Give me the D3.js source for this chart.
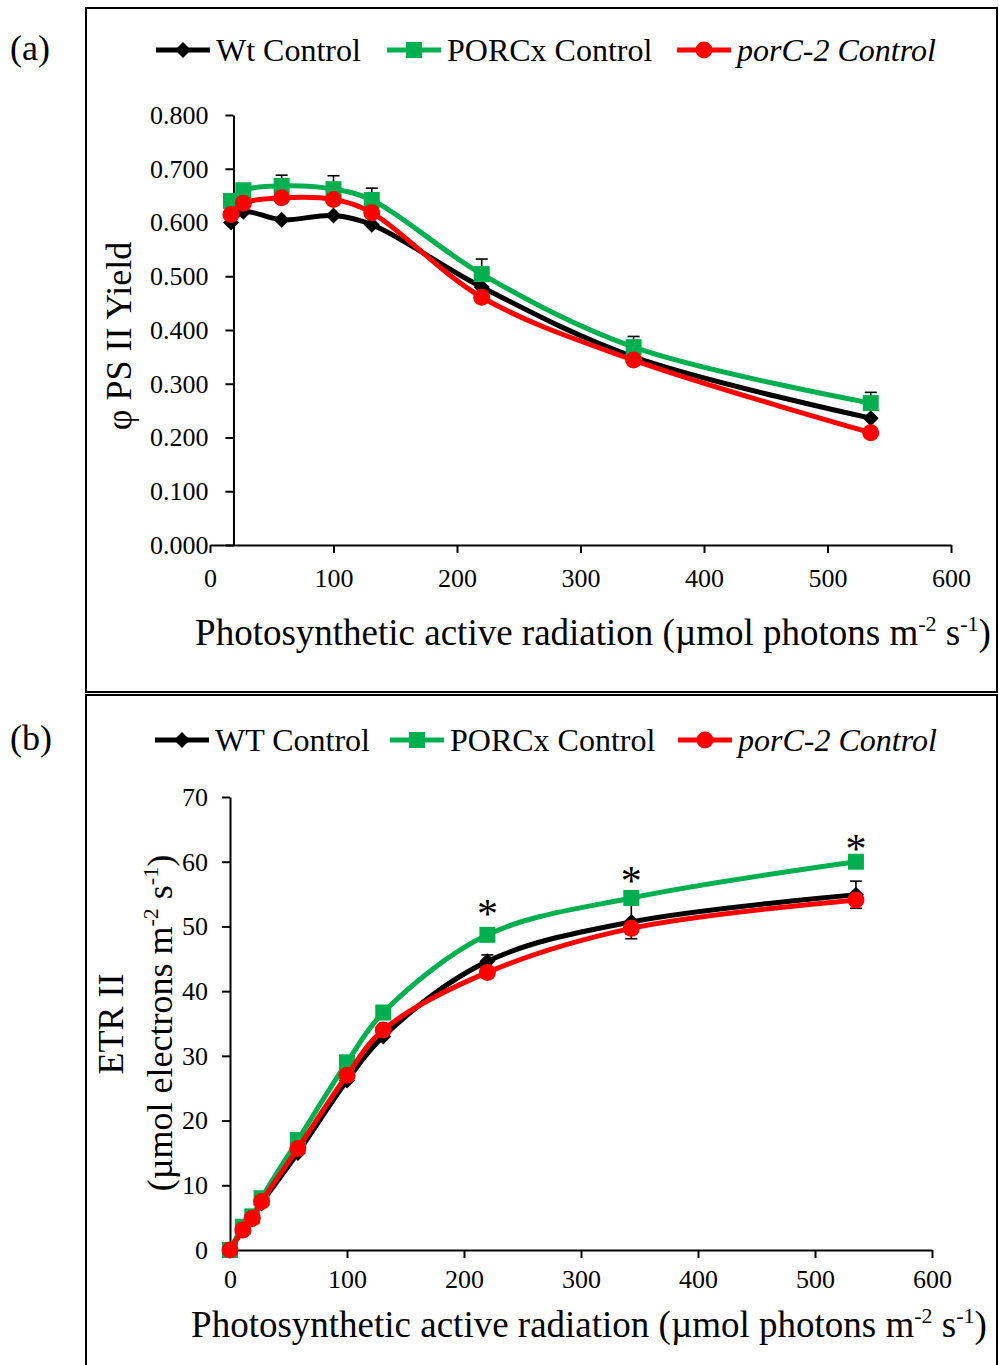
<!DOCTYPE html>
<html>
<head>
<meta charset="utf-8">
<script src="https://cdn.jsdelivr.net/npm/d3@7"></script>
<style>
  body { margin: 0; background: #fff; }
  svg text { font-family: "Liberation Serif", "Times New Roman", serif; fill: #000; }
</style>
</head>
<body>
<div id="chart"></div>
<script>
// ---- data ----
const parA = [17, 27, 58, 100, 131, 220, 343, 535];
const wtYield = [0.600, 0.620, 0.605, 0.613, 0.596, 0.480, 0.350, 0.236];
const porcxYield = [0.640, 0.660, 0.668, 0.662, 0.642, 0.504, 0.368, 0.264];
const porc2Yield = [0.615, 0.636, 0.646, 0.643, 0.618, 0.461, 0.344, 0.209];
const porcxYieldErr = [0, 0, 0.020, 0.025, 0.022, 0.028, 0.020, 0.020];

const parB = [0, 11, 19, 27, 58, 100, 131, 220, 343, 535];
const wtEtr = [0, 3.0, 4.7, 7.2, 15.0, 26.2, 33.0, 44.6, 50.7, 54.9];
const porcxEtr = [0, 3.6, 5.2, 8.0, 17.0, 29.0, 36.7, 48.7, 54.4, 60.0];
const porc2Etr = [0, 3.1, 4.9, 7.5, 15.7, 27.0, 34.0, 42.9, 49.7, 54.1];
const wtEtrErr = [0, 0, 0, 0, 0, 0, 0, 1.0, 2.6, 2.1];

// significance stars (panel b)
const sigPar = [220, 343, 535];
const sigEtr = [52.9, 57.9, 62.9];

const xTicks = [0, 100, 200, 300, 400, 500, 600];
const yTicksA = [0, 0.1, 0.2, 0.3, 0.4, 0.5, 0.6, 0.7, 0.8];
const yTicksB = [0, 10, 20, 30, 40, 50, 60, 70];
const legendA = ["Wt Control", "PORCx Control", "porC-2 Control"];
const legendB = ["WT Control", "PORCx Control", "porC-2 Control"];

const colors = ["#000000", "#00B050", "#FF0000"];
const shapes = ["diamond", "square", "circle"];

const W = 999, H = 1365;
const svg = d3.select("#chart").append("svg")
    .attr("width", W)
    .attr("height", H);

// panel frames
svg.append("rect").attr("x", 86).attr("y", 8).attr("width", 911).attr("height", 684)
    .attr("fill", "none").attr("stroke", "#000").attr("stroke-width", 2);
svg.append("rect").attr("x", 86).attr("y", 695).attr("width", 911).attr("height", 680)
    .attr("fill", "none").attr("stroke", "#000").attr("stroke-width", 2);

function marker(g, shape, color, x, y) {
    if (shape === "circle") {
        g.append("circle").attr("cx", x).attr("cy", y).attr("r", 8.5).attr("fill", color);
    } else if (shape === "square") {
        g.append("rect").attr("x", x - 8).attr("y", y - 8).attr("width", 16).attr("height", 16).attr("fill", color);
    } else {
        const r = 8;
        g.append("path").attr("d", `M${x},${y - r}L${x + r},${y}L${x},${y + r}L${x - r},${y}Z`).attr("fill", color);
    }
}

function legend(labels, starts, cy) {
    const g = svg.append("g");
    labels.forEach((lab, i) => {
        const x0 = starts[i];
        g.append("line").attr("x1", x0).attr("x2", x0 + 54).attr("y1", cy).attr("y2", cy)
            .attr("stroke", colors[i]).attr("stroke-width", 5);
        marker(g, shapes[i], colors[i], x0 + 27, cy);
        g.append("text").attr("x", x0 + 60).attr("y", cy + 11)
            .attr("font-size", 32)
            .attr("font-style", i === 2 ? "italic" : null)
            .text(lab);
    });
}

function xTitle(cx, y) {
    const t = svg.append("text").attr("x", cx).attr("y", y).attr("font-size", 37).attr("text-anchor", "middle");
    t.append("tspan").text("Photosynthetic active radiation (\u00B5mol photons m");
    t.append("tspan").attr("font-size", 22).attr("dy", -14).text("-2");
    t.append("tspan").attr("dy", 14).text(" s");
    t.append("tspan").attr("font-size", 22).attr("dy", -14).text("-1");
    t.append("tspan").attr("dy", 14).text(")");
}

function drawSeries(g, x, y, xs, ys, color, shape, err, errBoth) {
    const pts = xs.map((v, i) => ({ x: v, y: ys[i], e: err ? err[i] : 0 }));
    const line = d3.line().x(d => x(d.x)).y(d => y(d.y)).curve(d3.curveCatmullRom.alpha(0.5));
    g.append("path").datum(pts).attr("d", line)
        .attr("fill", "none").attr("stroke", color).attr("stroke-width", 5);
    pts.filter(d => d.e > 0).forEach(d => {
        const px = x(d.x), top = y(d.y + d.e), bot = errBoth ? y(d.y - d.e) : y(d.y);
        g.append("line").attr("x1", px).attr("x2", px).attr("y1", top).attr("y2", bot)
            .attr("stroke", "#000").attr("stroke-width", 1.6);
        g.append("line").attr("x1", px - 6).attr("x2", px + 6).attr("y1", top).attr("y2", top)
            .attr("stroke", "#000").attr("stroke-width", 1.6);
        if (errBoth) {
            g.append("line").attr("x1", px - 6).attr("x2", px + 6).attr("y1", bot).attr("y2", bot)
                .attr("stroke", "#000").attr("stroke-width", 1.6);
        }
    });
    pts.forEach(d => marker(g, shape, color, x(d.x), y(d.y)));
}

function styleAxis(g) {
    g.attr("font-family", "Liberation Serif, Times New Roman, serif").attr("font-size", 26);
    g.selectAll("path, line").attr("stroke", "#000").attr("stroke-width", 2);
    g.selectAll("text").attr("fill", "#000");
}

// ---------- panel (a) ----------
const xA = d3.scaleLinear().domain([0, 600]).range([210, 951]);
const yA = d3.scaleLinear().domain([0, 0.8]).range([545, 115]);
const crossA = 19;

svg.append("g").attr("transform", `translate(0,${yA(0)})`)
    .call(d3.axisBottom(xA).tickValues(xTicks).tickSize(8).tickSizeOuter(0).tickPadding(16))
    .call(styleAxis);
svg.append("g").attr("transform", `translate(${xA(crossA)},0)`)
    .call(d3.axisLeft(yA).tickValues(yTicksA).tickFormat(d3.format(".3f")).tickSize(8).tickSizeOuter(0).tickPadding(17))
    .call(styleAxis);

const gA = svg.append("g");
drawSeries(gA, xA, yA, parA, wtYield, colors[0], shapes[0]);
drawSeries(gA, xA, yA, parA, porcxYield, colors[1], shapes[1], porcxYieldErr, false);
drawSeries(gA, xA, yA, parA, porc2Yield, colors[2], shapes[2]);

legend(legendA, [156, 387, 677], 50);
svg.append("text").attr("x", 10).attr("y", 60).attr("font-size", 36).text("(a)");
svg.append("text").attr("transform", "translate(131,336) rotate(-90)")
    .attr("text-anchor", "middle").attr("font-size", 36).text("\u03C6 PS II Yield");
xTitle(593, 645);

// ---------- panel (b) ----------
const xB = d3.scaleLinear().domain([0, 600]).range([230, 932]);
const yB = d3.scaleLinear().domain([0, 70]).range([1250, 797]);

svg.append("g").attr("transform", `translate(0,${yB(0)})`)
    .call(d3.axisBottom(xB).tickValues(xTicks).tickSize(8).tickSizeOuter(0).tickPadding(12))
    .call(styleAxis);
svg.append("g").attr("transform", `translate(${xB(0)},0)`)
    .call(d3.axisLeft(yB).tickValues(yTicksB).tickSize(8).tickSizeOuter(0).tickPadding(14))
    .call(styleAxis);

const gB = svg.append("g");
drawSeries(gB, xB, yB, parB, wtEtr, colors[0], shapes[0], wtEtrErr, true);
drawSeries(gB, xB, yB, parB, porcxEtr, colors[1], shapes[1]);
drawSeries(gB, xB, yB, parB, porc2Etr, colors[2], shapes[2]);

sigPar.forEach((p, i) => {
    svg.append("text").attr("x", xB(p)).attr("y", yB(sigEtr[i]) + 20)
        .attr("text-anchor", "middle").attr("font-size", 42).text("*");
});

legend(legendB, [155, 390, 678], 740);
svg.append("text").attr("x", 10).attr("y", 750).attr("font-size", 36).text("(b)");

svg.append("text").attr("transform", "translate(123,1024) rotate(-90)")
    .attr("text-anchor", "middle").attr("font-size", 36).text("ETR II");
const yt = svg.append("text").attr("transform", "translate(172,1023) rotate(-90)")
    .attr("text-anchor", "middle").attr("font-size", 36);
yt.append("tspan").text("(\u00B5mol electrons m");
yt.append("tspan").attr("font-size", 22).attr("dy", -14).text("-2");
yt.append("tspan").attr("dy", 14).text(" s");
yt.append("tspan").attr("font-size", 22).attr("dy", -14).text("-1");
yt.append("tspan").attr("dy", 14).text(")");

xTitle(589, 1337);
</script>
</body>
</html>
